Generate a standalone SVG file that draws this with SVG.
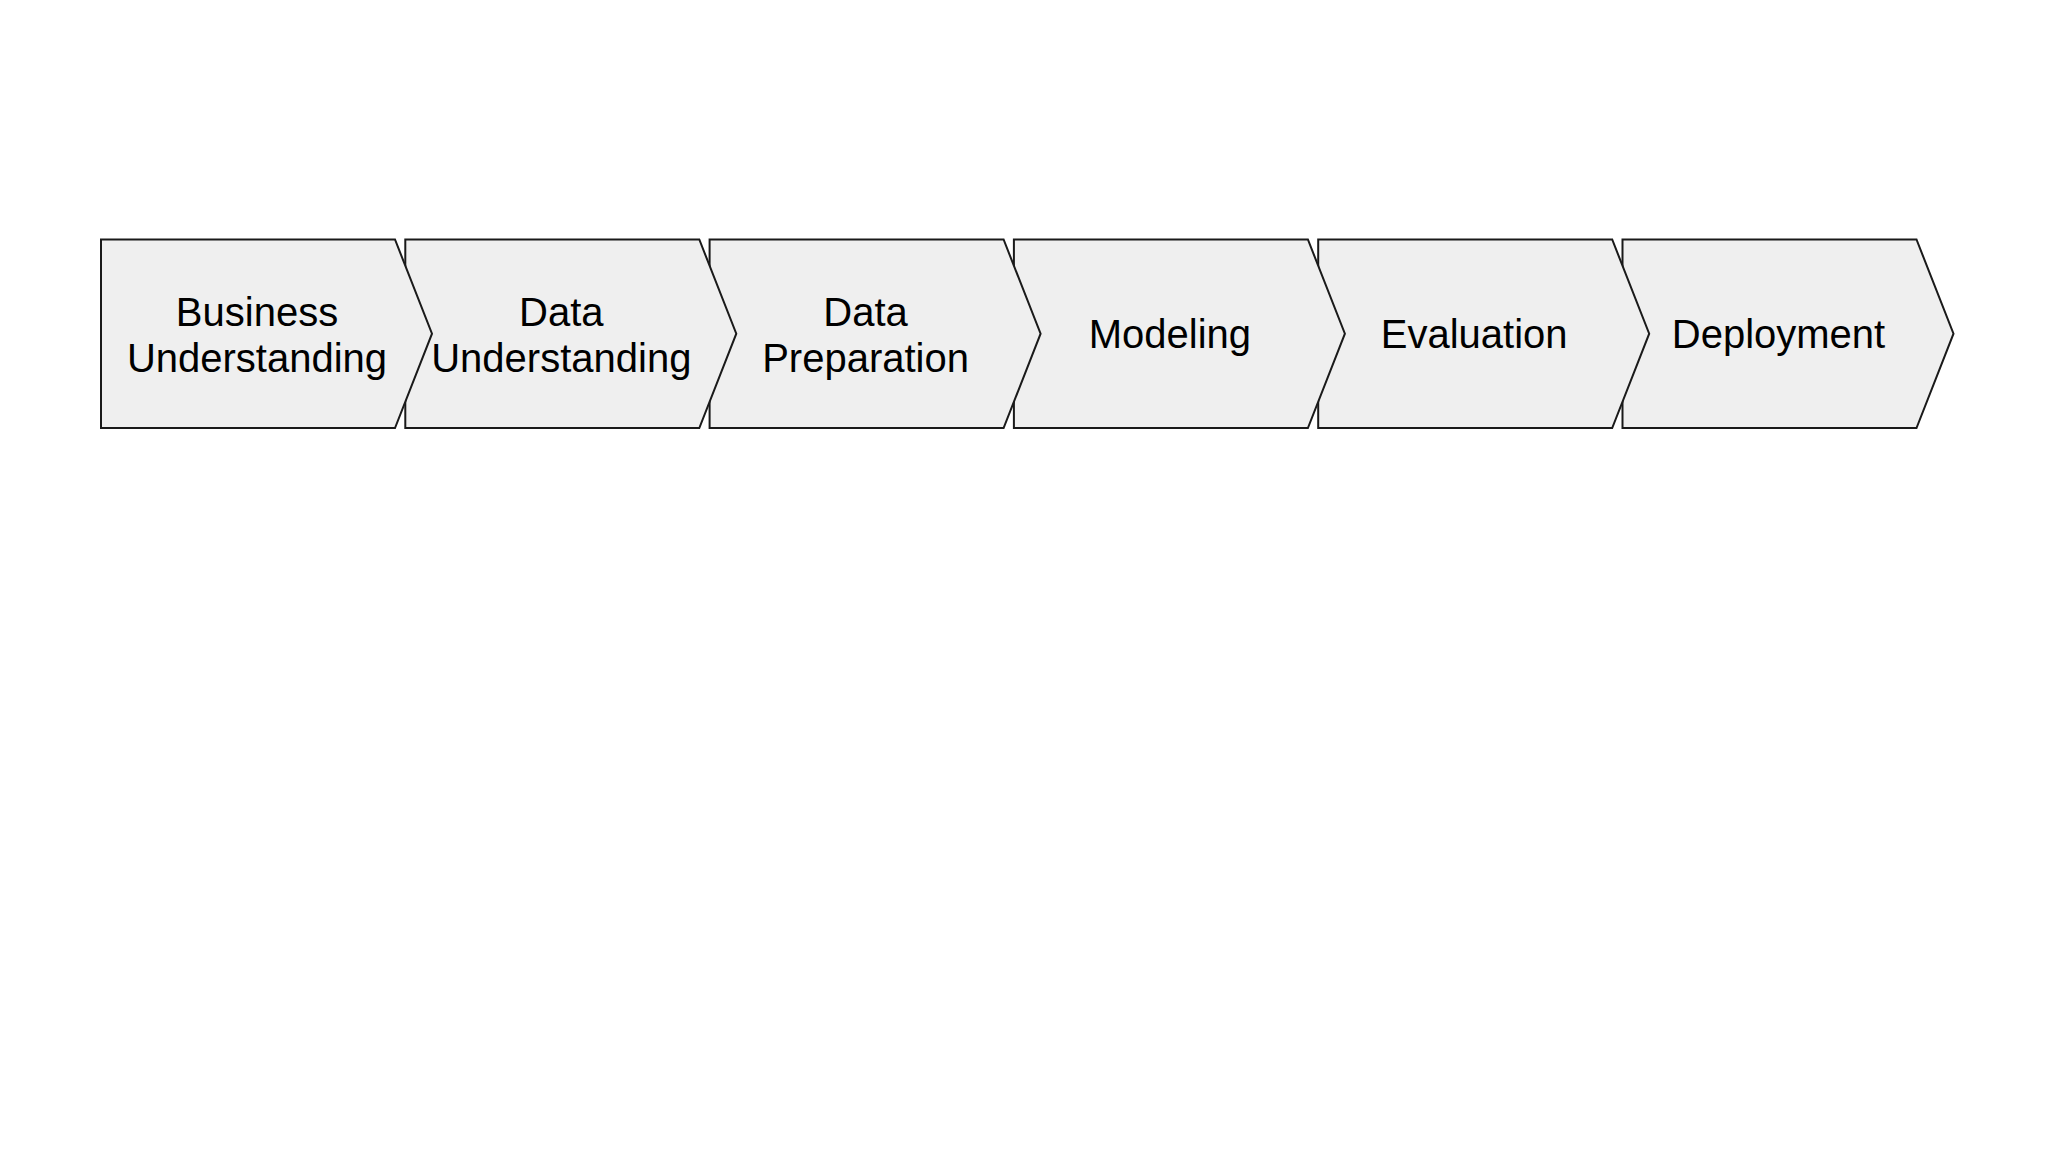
<svg xmlns="http://www.w3.org/2000/svg" width="2048" height="1152" viewBox="0 0 2048 1152">
<style>
.s{fill:#efefef;stroke:#1a1a1a;stroke-width:2;stroke-linejoin:miter}
.t{font-family:"Liberation Sans",Arial,sans-serif;font-size:40px;fill:#000;text-anchor:middle}
</style>
<rect width="2048" height="1152" fill="#fff"/>
<g id="connectors"></g>
<g id="nodes">
<g id="deployment"><path class="s" d="M1622.5 239.5H1916.5L1953.5 333.7L1916.5 428H1622.5Z"/><text class="t" x="1778.5" y="348">Deployment</text></g>
<g id="evaluation"><path class="s" d="M1318.2 239.5H1612.2L1649.2 333.7L1612.2 428H1318.2Z"/><text class="t" x="1474.2" y="348">Evaluation</text></g>
<g id="modeling"><path class="s" d="M1013.9 239.5H1307.9L1344.9 333.7L1307.9 428H1013.9Z"/><text class="t" x="1169.9" y="348">Modeling</text></g>
<g id="data-preparation"><path class="s" d="M709.6 239.5H1003.6L1040.6 333.7L1003.6 428H709.6Z"/><text class="t" x="865.6" y="326">Data</text><text class="t" x="865.6" y="372">Preparation</text></g>
<g id="data-understanding"><path class="s" d="M405.3 239.5H699.3L736.3 333.7L699.3 428H405.3Z"/><text class="t" x="561.3" y="326">Data</text><text class="t" x="561.3" y="372">Understanding</text></g>
<g id="business-understanding"><path class="s" d="M101 239.5H395L432 333.7L395 428H101Z"/><text class="t" x="257" y="326">Business</text><text class="t" x="257" y="372">Understanding</text></g>
</g>
</svg>
